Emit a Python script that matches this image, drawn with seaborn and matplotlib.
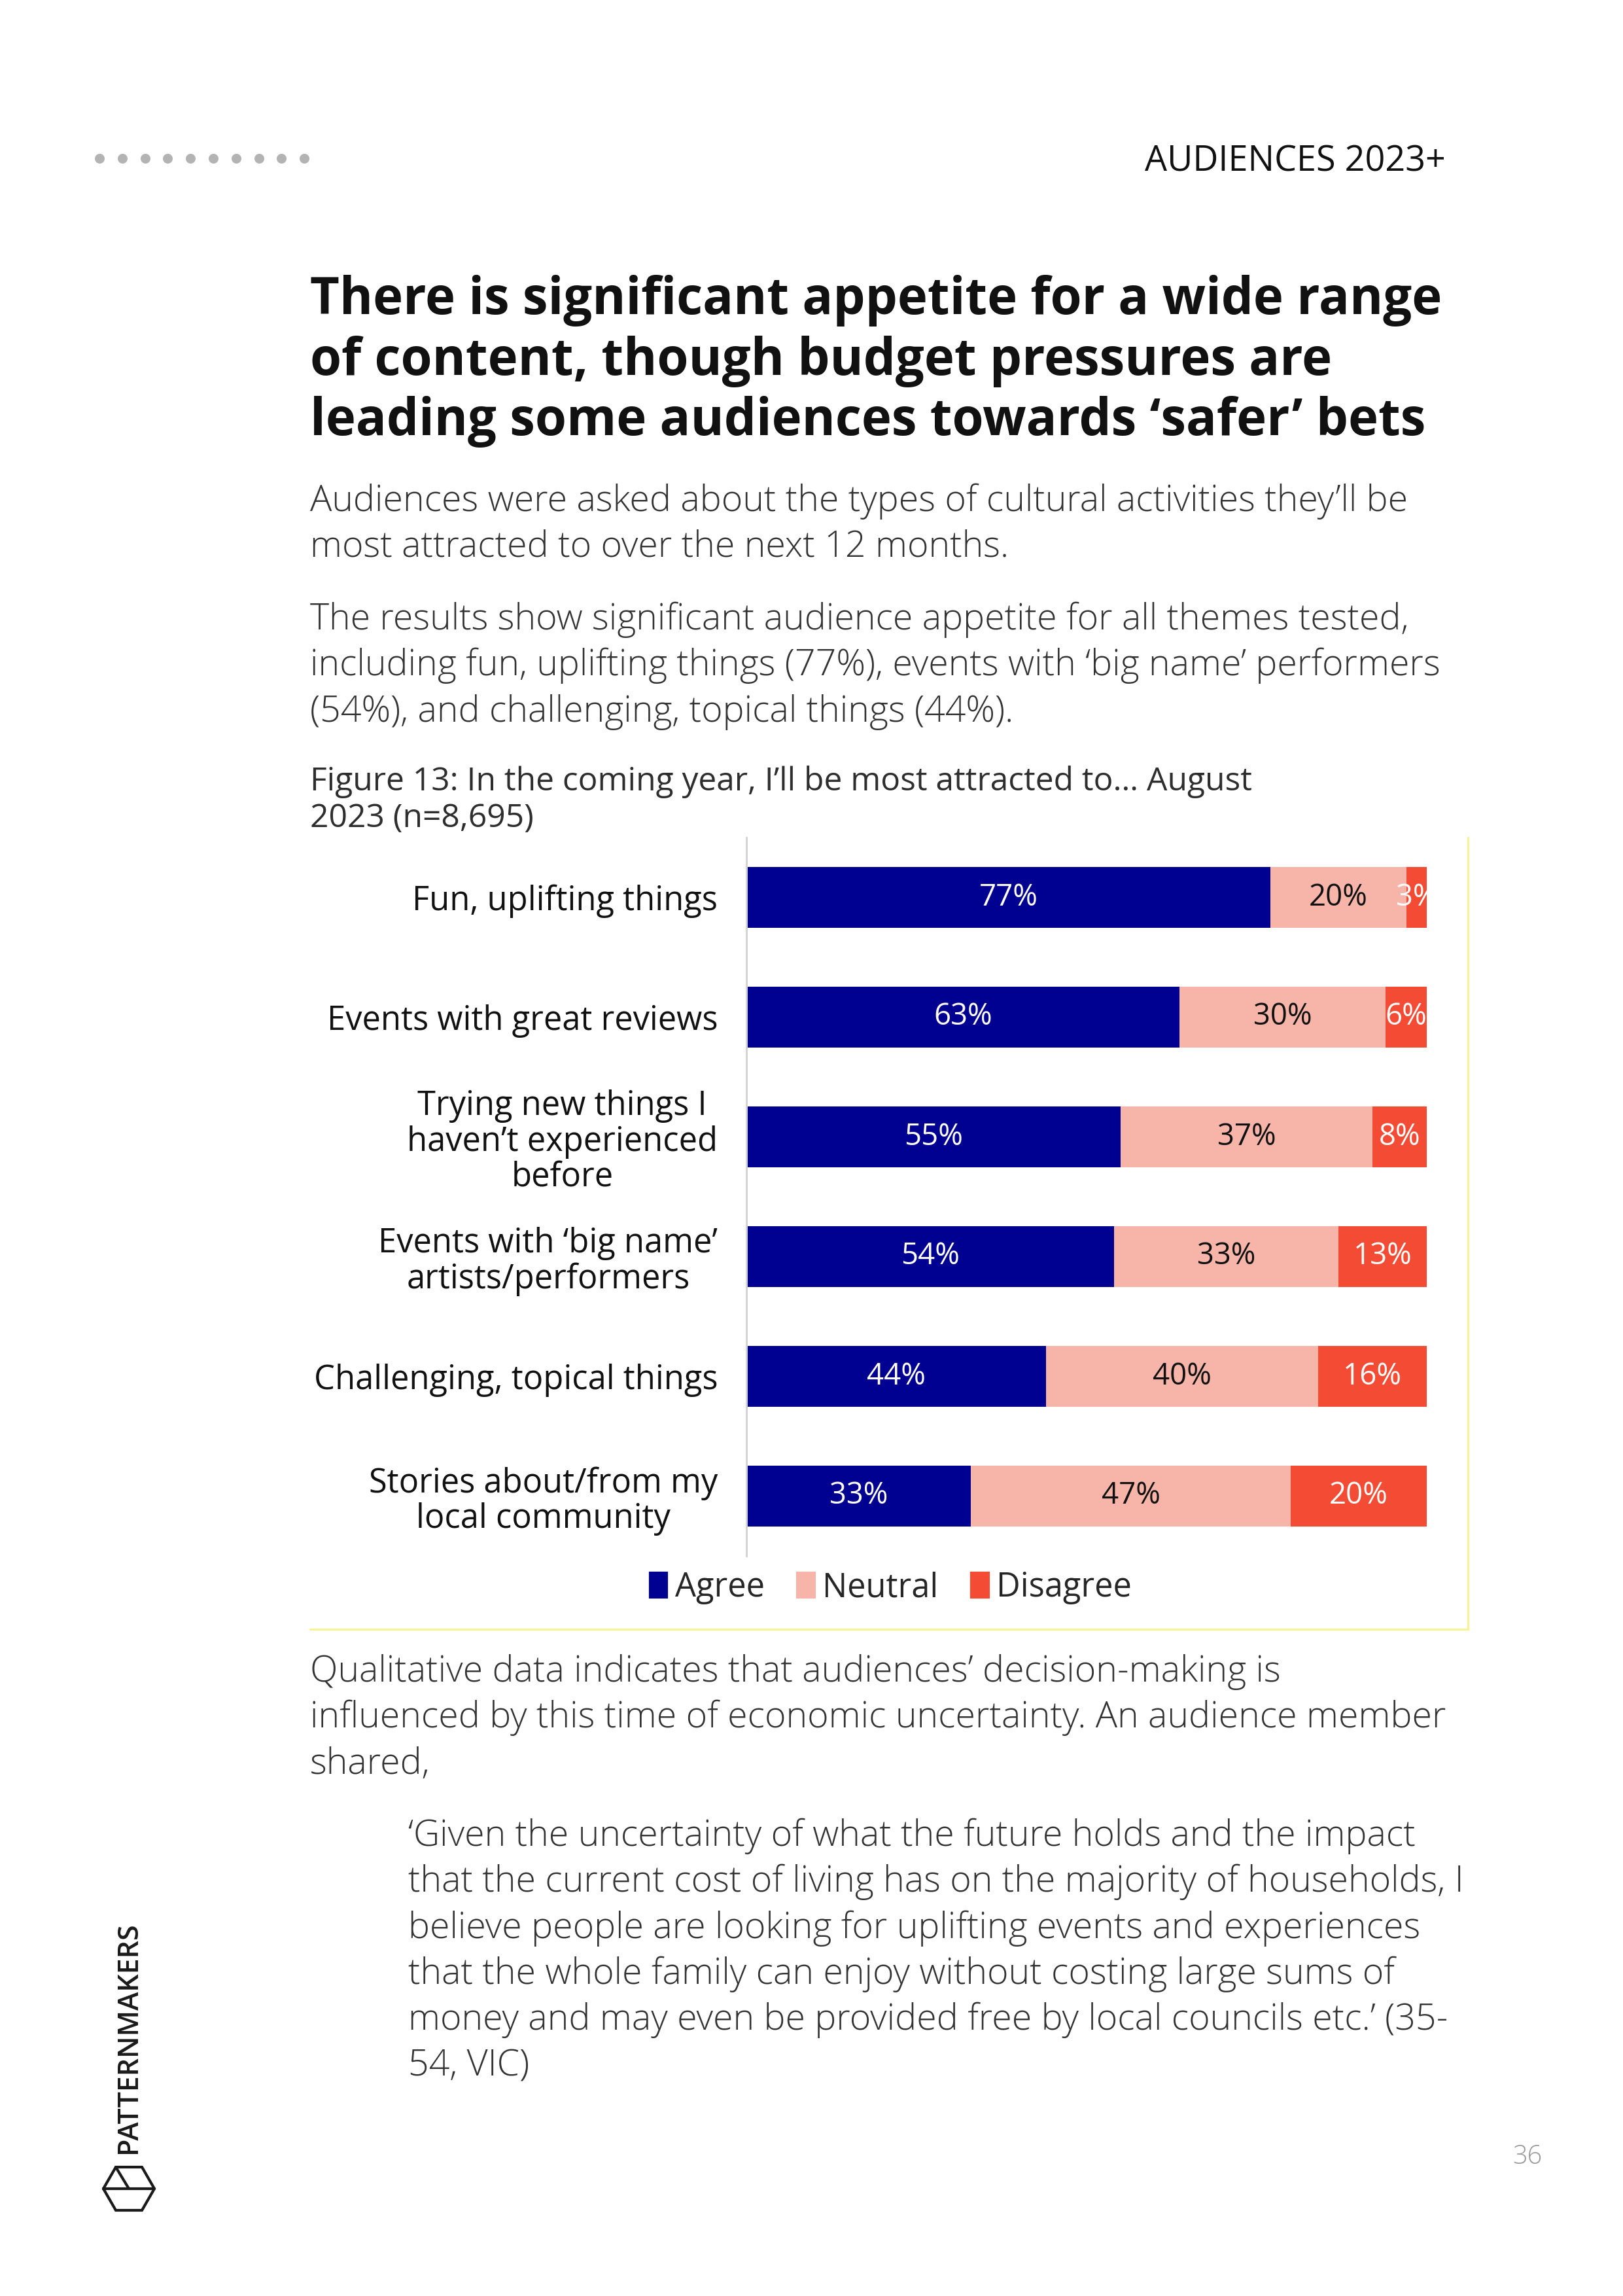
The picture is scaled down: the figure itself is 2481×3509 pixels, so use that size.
import matplotlib.pyplot as plt
import matplotlib.patches as mpatches
from matplotlib.lines import Line2D
import pandas as pd
import seaborn as sns

#########################
#         DATA          #
#########################
categories = ["Fun, uplifting things",
              "Events with great reviews",
              "Trying new things I\nhaven\u2019t experienced\nbefore",
              "Events with \u2018big name\u2019\nartists/performers",
              "Challenging, topical things",
              "Stories about/from my\nlocal community"]
agree = [77, 63, 55, 54, 44, 33]
neutral = [20, 30, 37, 33, 40, 47]
disagree = [3, 6, 8, 13, 16, 20]
series_names = ["Agree", "Neutral", "Disagree"]

title_lines = ["There is significant appetite for a wide range",
               "of content, though budget pressures are",
               "leading some audiences towards \u2018safer\u2019 bets"]
para1 = ["Audiences were asked about the types of cultural activities they\u2019ll be",
         "most attracted to over the next 12 months."]
para2 = ["The results show significant audience appetite for all themes tested,",
         "including fun, uplifting things (77%), events with \u2018big name\u2019 performers",
         "(54%), and challenging, topical things (44%)."]
caption = ["Figure 13: In the coming year, I\u2019ll be most attracted to\u2026 August",
           "2023 (n=8,695)"]
para3 = ["Qualitative data indicates that audiences\u2019 decision-making is",
         "influenced by this time of economic uncertainty. An audience member",
         "shared,"]
quote = ["\u2018Given the uncertainty of what the future holds and the impact",
         "that the current cost of living has on the majority of households, I",
         "believe people are looking for uplifting events and experiences",
         "that the whole family can enjoy without costing large sums of",
         "money and may even be provided free by local councils etc.\u2019 (35-",
         "54, VIC)"]

#########################
#        STYLE          #
#########################
c_agree = "#000091"
c_neutral = "#F7B4A9"
c_disagree = "#F44C34"
text_grey = "#333333"

sns.set_style("white")
plt.rcParams['font.family'] = ['Open Sans', 'DejaVu Sans']

DPI = 300
W, H = 2481, 3509
fig = plt.figure(figsize=(W / DPI, H / DPI), dpi=DPI)
fig.patch.set_facecolor("white")
renderer = fig.canvas.get_renderer()


def fit(s, target_px, **kw):
    # font size that gives the line the width it has on the page
    t = fig.text(0, 0, s, fontsize=10, **kw)
    w = t.get_window_extent(renderer).width
    t.remove()
    return 10 * target_px / w


def put(x, y, s, size, **kw):
    # y is the visual middle of the line in page pixels
    off = 0.36 * size * DPI / 72
    fig.text(x / W, 1 - (y + off) / H, s, fontsize=size, va='baseline', **kw)


# page decorations (header dots, logo)
deco = fig.add_axes([0, 0, 1, 1])
deco.set_xlim(0, W)
deco.set_ylim(H, 0)
deco.axis('off')
dot_x = [152 + i * 34.8 for i in range(10)]
deco.plot(dot_x, [242] * 10, 'o', color="#b3b3b3", markersize=3.6, markeredgewidth=0)
hexx = [158, 177, 217, 236, 217, 177, 158]
hexy = [3345, 3312, 3312, 3345, 3378, 3378, 3345]
deco.plot(hexx, hexy, color="#1a1a1a", lw=1.0, solid_joinstyle='miter')
deco.plot([158, 236], [3345, 3345], color="#1a1a1a", lw=1.0)
deco.plot([177, 197], [3312, 3345], color="#1a1a1a", lw=1.0)
pm_size = fit("PATTERNMAKERS", 353, fontweight='semibold')
fig.text(197 / W, 1 - 3114 / H, "PATTERNMAKERS", rotation=90, fontsize=pm_size,
         fontweight='semibold', color="#1a1a1a", ha='center', va='center')

hd_size = fit("AUDIENCES 2023+", 460)
put(2210, 242, "AUDIENCES 2023+", hd_size, ha='right', color="#111111")
put(2335, 3293, "36", 9.5, ha='center', color="#9a9a9a", fontweight='light')

# title and body text
t_size = fit(title_lines[0], 1731, fontweight='bold')
for i, s in enumerate(title_lines):
    put(474, 452 + i * 92.5, s, t_size, fontweight='bold', color="#111111")
b_size = fit(para1[0], 1680, fontweight='light')
for i, s in enumerate(para1):
    put(474, 761 + i * 69.5, s, b_size, color=text_grey, fontweight='light')
for i, s in enumerate(para2):
    put(474, 942 + i * 70.5, s, b_size, color=text_grey, fontweight='light')
c_size = fit(caption[0], 1445)
for i, s in enumerate(caption):
    put(474, 1190 + i * 56, s, c_size, color="#2e2e2e")
for i, s in enumerate(para3):
    put(474, 2550 + i * 70.5, s, b_size, color=text_grey, fontweight='light')
for i, s in enumerate(quote):
    put(624, 2801 + i * 70.3, s, b_size, color=text_grey, fontweight='light')

# chart box (faint yellow frame)
fig.add_artist(Line2D([2244 / W, 2244 / W], [1 - 1280 / H, 1 - 2490 / H], color="#f6f39a", lw=0.8))
fig.add_artist(Line2D([474 / W, 2244 / W], [1 - 2490 / H, 1 - 2490 / H], color="#f6f39a", lw=0.8))

#########################
#        CHART          #
#########################
df = pd.DataFrame({'category': categories, 'Agree': agree,
                   'Neutral': neutral, 'Disagree': disagree})
total = df[series_names].sum(axis=1)
share = df[series_names].div(total, axis=0) * 100
df['s_agree'] = share['Agree']
df['s_an'] = share['Agree'] + share['Neutral']
df['s_all'] = share.sum(axis=1)

ax = fig.add_axes([1141 / W, 1 - 2378 / H, 1040 / W, 1098 / H])
ax.patch.set_alpha(0)
sns.barplot(data=df, x='s_all', y='category', color=c_disagree, width=0.51,
            saturation=1, errorbar=None, linewidth=0, ax=ax)
sns.barplot(data=df, x='s_an', y='category', color=c_neutral, width=0.51,
            saturation=1, errorbar=None, linewidth=0, ax=ax)
sns.barplot(data=df, x='s_agree', y='category', color=c_agree, width=0.51,
            saturation=1, errorbar=None, linewidth=0, ax=ax)
ax.set_xlim(0, 100)
ax.set_ylim(5.5, -0.5)
ax.set_xticks([])
ax.set_xlabel('')
ax.set_ylabel('')
for sp in ['top', 'right', 'bottom']:
    ax.spines[sp].set_visible(False)
ax.spines['left'].set_color("#d4d4d4")
ax.spines['left'].set_linewidth(0.7)

lab_size = fit("Challenging, topical things", 617)
ax.tick_params(axis='y', length=0, pad=10.5, labelsize=lab_size, labelcolor="#111111")
for lbl in ax.get_yticklabels():
    lbl.set_multialignment('center')
    lbl.set_linespacing(55 / (lab_size * DPI / 72))

# value labels in the middle of each segment
starts = [[0] * len(df), list(df['s_agree']), list(df['s_an'])]
ends = [list(df['s_agree']), list(df['s_an']), list(df['s_all'])]
raw = [agree, neutral, disagree]
lab_colors = ["white", "#111111", "white"]
val_size = fit("77%", 90)
for k in range(3):
    for i in range(len(df)):
        xc = (starts[k][i] + ends[k][i]) / 2
        ax.text(xc, i, f"{raw[k][i]}%", ha='center', va='center', fontsize=val_size,
                color=lab_colors[k], clip_on=True)

handles = [mpatches.Patch(color=c, label=n) for c, n in zip([c_agree, c_neutral, c_disagree], series_names)]
fig.legend(handles=handles, loc='center', bbox_to_anchor=(1362 / W, 1 - 2427 / H), ncol=3,
           frameon=False, prop={'size': lab_size}, handlelength=0.5,
           handleheight=0.75, handletextpad=0.25, columnspacing=1.0)

fig.savefig("out.png", dpi=DPI, facecolor="white")
